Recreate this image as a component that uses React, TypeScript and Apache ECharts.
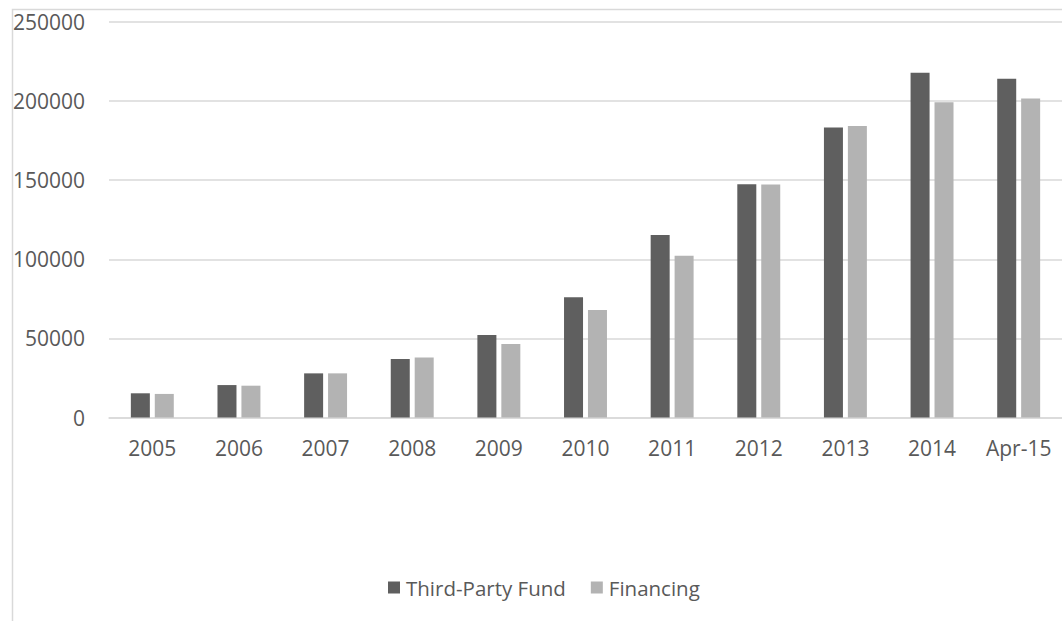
import React, { useEffect, useRef } from "react";
import * as echarts from "echarts";

const categories = ["2005", "2006", "2007", "2008", "2009", "2010", "2011", "2012", "2013", "2014", "Apr-15"];
const thirdPartyFund = [15300, 20500, 27900, 36900, 52100, 76000, 115400, 147500, 183300, 217900, 214100];
const financing = [14900, 20100, 27900, 38000, 46400, 67900, 102300, 147300, 184200, 199200, 201600];
const yTicks = { min: 0, max: 250000, interval: 50000 };

const FONT = "'Open Sans', 'Noto Sans', sans-serif";
const TEXT = "#595959";
const GRID = "#d9d9d9";
const FS = 21;

export default function App() {
  const ref = useRef<HTMLDivElement>(null);
  useEffect(() => {
    if (!ref.current) return;
    const chart = echarts.init(ref.current, null, { renderer: "svg" });
    chart.setOption({
      animation: false,
      backgroundColor: "#ffffff",
      textStyle: { fontFamily: FONT },
      graphic: [
        {
          type: "rect",
          left: 10,
          top: 7,
          shape: { x: 0, y: 0, width: 1100, height: 700 },
          style: { fill: "none", stroke: GRID, lineWidth: 1.5 },
          silent: true,
        },
      ],
      grid: { left: 109, top: 22, width: 957, bottom: 203.5, containLabel: false },
      legend: {
        left: 383,
        top: 572,
        itemWidth: 12,
        itemHeight: 12,
        itemGap: 25,
        icon: "rect",
        textStyle: { color: TEXT, fontSize: 20.5, fontFamily: FONT, padding: [0, 0, 0, 1] },
        data: ["Third-Party Fund", "Financing"],
      },
      xAxis: {
        type: "category",
        data: categories,
        axisLine: { show: true, lineStyle: { color: GRID, width: 1.5 } },
        axisTick: { show: false },
        axisLabel: { color: TEXT, fontSize: FS, fontFamily: FONT, margin: 20 },
      },
      yAxis: {
        type: "value",
        min: yTicks.min,
        max: yTicks.max,
        interval: yTicks.interval,
        axisLine: { show: false },
        axisTick: { show: false },
        splitLine: { lineStyle: { color: GRID, width: 1.5 } },
        axisLabel: {
          color: TEXT,
          fontSize: FS,
          fontFamily: FONT,
          margin: 24,
          formatter: (v: number) => String(v),
        },
      },
      series: [
        {
          name: "Third-Party Fund",
          type: "bar",
          data: thirdPartyFund,
          barWidth: 19,
          barGap: "26%",
          itemStyle: { color: "#5f5f5f" },
        },
        {
          name: "Financing",
          type: "bar",
          data: financing,
          barWidth: 19,
          barGap: "26%",
          itemStyle: { color: "#b3b3b3" },
        },
      ],
    });
    return () => chart.dispose();
  }, []);
  return (
    <div
      ref={ref}
      style={{ position: "absolute", left: 0, top: 0, width: 1062, height: 621 }}
    />
  );
}
